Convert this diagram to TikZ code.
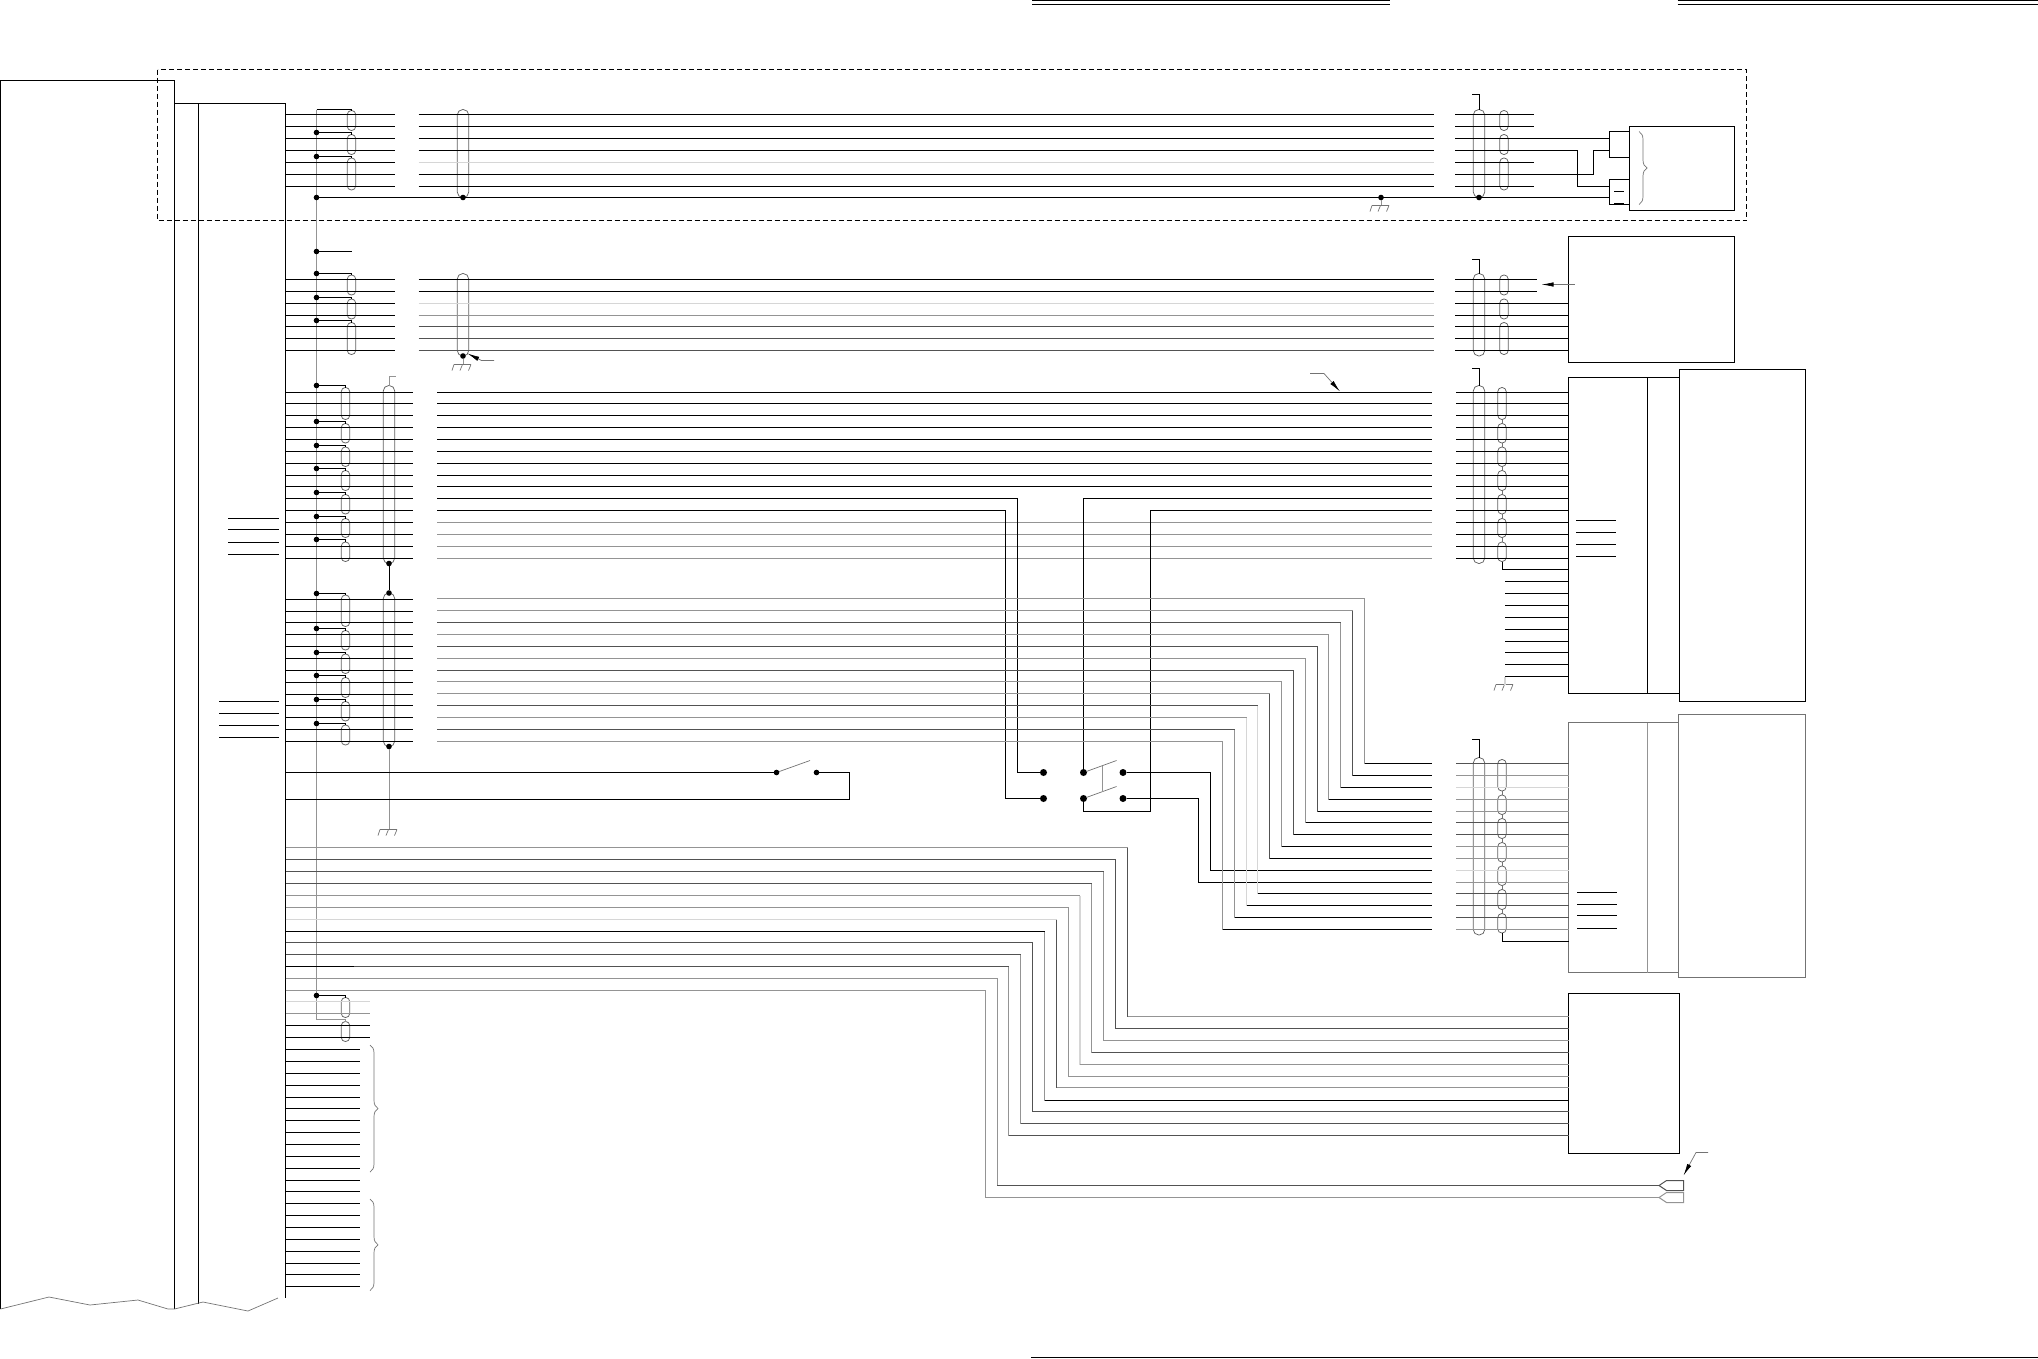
\documentclass[tikz,border=0pt]{standalone}
\usepackage{xcolor}
\usetikzlibrary{calc,arrows.meta,decorations.pathreplacing}
\tikzset{
  wirek/.style={draw=black,line width=1pt},
  wired/.style={draw=black!68,line width=1pt},
  wireg/.style={draw=black!42,line width=1pt},
  wirel/.style={draw=black!16,line width=1.4pt},
  wireoff/.style={draw=none},
  thinline/.style={draw=black!55,line width=.7pt},
  unit/.style={rectangle,draw=black,line width=1pt,anchor=north west,inner sep=0pt,outer sep=0pt},
  ghostunit/.style={unit,draw=black!55},
  sleeve/.style={rectangle,draw=black!62,line width=.75pt,minimum width=8.4pt,rounded corners=4pt,inner sep=0pt,outer sep=0pt},
  bigsleeve/.style={rectangle,draw=black!62,line width=.75pt,minimum width=11.5pt,rounded corners=5.5pt,inner sep=0pt,outer sep=0pt},
  dot/.style={circle,fill=black,inner sep=0pt,outer sep=0pt,minimum size=5.6pt},
  swdot/.style={circle,fill=black,inner sep=0pt,outer sep=0pt,minimum size=7pt},
  leader/.style={thinline,-{Latex[length=12pt,width=4.5pt,black]}},
  curly/.style={thinline,decorate,decoration={brace,amplitude=8pt}},
  gnd/.pic={
    \draw[thinline] (-9,0) -- (8,0);
    \draw[thinline] (-9,0) -- (-11,6);
    \draw[thinline] (-.5,0) -- (-3,6);
    \draw[thinline] (8,0) -- (5.5,6);
  }
}
\begin{document}
\begin{tikzpicture}[x=1pt,y=-1pt,line width=1pt]
\useasboundingbox (0,0) rectangle (2038,1358);

% page rules
\draw[line width=1.3pt] (1032,.7) -- (1390,.7);
\draw[line width=1.3pt] (1032,4.5) -- (1390,4.5);
\draw[line width=1.3pt] (1677.5,.7) -- (2038,.7);
\draw[line width=1.3pt] (1677.5,4.5) -- (2038,4.5);
\draw (1031,1357) -- (2038,1357);

% dashed frame
\draw[dashed,dash pattern=on 5pt off 3pt] (157.5,69.5) rectangle (1746.5,220.5);

% left cabinet, broken at the bottom
\draw (.5,1309) -- (.5,80.5) -- (174.5,80.5) -- (174.5,1309);
\draw (174.5,103.5) -- (285.5,103.5) -- (285.5,1297.5);
\draw (198.5,103.5) -- (198.5,1304);
\draw[thinline] (.5,1309) -- (49,1297) -- (90,1305) -- (138,1300) -- (168,1309) -- (174.5,1309) -- (203,1302) -- (248,1311) -- (278,1298);

% units
\node[unit,minimum width=105pt,minimum height=84pt] (unitA) at (1629.5,126.5) {};
\node[unit,minimum width=20pt,minimum height=26pt] (connAa) at (1609.5,131.5) {};
\node[unit,minimum width=20pt,minimum height=25pt] (connAb) at (1609.5,179.5) {};
\node[unit,minimum width=166pt,minimum height=126pt] (unitB) at (1568.5,236.5) {};
\node[unit,minimum width=111pt,minimum height=316pt] (unitC) at (1568.5,377.5) {};
\node[unit,minimum width=126pt,minimum height=332pt] (unitD) at (1679.5,369.5) {};
\node[ghostunit,minimum width=110pt,minimum height=250pt] (unitE) at (1568.5,722.5) {};
\node[ghostunit,minimum width=127pt,minimum height=263pt] (unitF) at (1678.5,714.5) {};
\node[unit,minimum width=111pt,minimum height=160pt] (unitG) at (1568.5,993.5) {};
\coordinate (divC) at (1647.5,377.5);
\coordinate (divE) at (1647.5,722.5);
\draw (divC) -- (divC |- unitC.south);
\draw[wireg] (divE) -- (divE |- unitE.south);
\draw (1614,191.5) -- (1624,191.5);
\draw[line width=1.4pt] (1614,203.5) -- (1624,203.5);
\draw[curly] (1639,131.5) -- (1639,204.5);
\draw[curly] (370,1045) -- (370,1172);
\draw[curly] (370,1199) -- (370,1290.5);

% columns
\coordinate (xa) at (285.5,0);
\coordinate (xb) at (395,0);
\coordinate (xc) at (418.5,0);
\coordinate (xd) at (1434,0);
\coordinate (xe) at (1455,0);
\coordinate (xf) at (413,0);
\coordinate (xg) at (437,0);
\coordinate (xh) at (1432,0);
\coordinate (xi) at (1456,0);

% common bus
\coordinate (busT) at (316.5,109.5);
\coordinate (busB) at (316.5,1019.5);
\coordinate (busE) at (345.5,1019.5);
\draw[wireg] (busT) -- (busB) -- (busE);

% sleeves
\foreach \i/\ya/\yb in {1/110.5/130.5,2/134.5/154.5,3/158/190}{
  \node[sleeve,minimum height={(\yb-\ya)*1pt}] (sa\i) at (351.5,{(\ya+\yb)/2}) {};
  \node[sleeve,minimum height={(\yb-\ya)*1pt}] (ra\i) at (1504,{(\ya+\yb)/2}) {};
}
\foreach \i/\ya/\yb in {1/275/295,2/299/319,3/322.5/354.5}{
  \node[sleeve,minimum height={(\yb-\ya)*1pt}] (sb\i) at (351.5,{(\ya+\yb)/2}) {};
  \node[sleeve,minimum height={(\yb-\ya)*1pt}] (rb\i) at (1504,{(\ya+\yb)/2}) {};
}
\foreach \i/\ya/\yb in {1/387.5/419.5,2/423.5/443,3/447/466.5,4/470.5/490.5,5/494.5/514,6/518.5/537.5,7/542/561.5}{
  \node[sleeve,minimum height={(\yb-\ya)*1pt}] (sc\i) at (345.5,{(\ya+\yb)/2}) {};
  \node[sleeve,minimum height={(\yb-\ya)*1pt}] (rc\i) at (1502,{(\ya+\yb)/2}) {};
}
\foreach \i/\ya/\yb in {1/595/626.5,2/630.5/650,3/654/673.5,4/677.5/697.5,5/701.5/721,6/725/745}{
  \node[sleeve,minimum height={(\yb-\ya)*1pt}] (sd\i) at (345.5,{(\ya+\yb)/2}) {};
}
\foreach \i/\ya/\yb in {1/759.5/791,2/795/814.5,3/818.5/838.5,4/842.5/862,5/866/885.5,6/889.5/909.5,7/913.5/933}{
  \node[sleeve,minimum height={(\yb-\ya)*1pt}] (rl\i) at (1502,{(\ya+\yb)/2}) {};
}
\foreach \i/\ya/\yb in {1/997.5/1017.5,2/1021.5/1041.5}{
  \node[sleeve,minimum height={(\yb-\ya)*1pt}] (se\i) at (345.5,{(\ya+\yb)/2}) {};
}
\foreach \i/\j in {1/2,2/3,3/4,4/5,5/6,6/7}{
  \draw[thinline] (rc\i.south) -- (rc\j.north);
  \draw[thinline] (rl\i.south) -- (rl\j.north);
}
\foreach \n/\xs/\ya/\yb in {bla/463/109.5/197.5,blb/463/273.5/356,blc/389/385.5/563.5,bld/389/593/746.5,
    bra/1479/109.5/197.5,brb/1479/273.5/356,brc/1479/385.5/563.5,brl/1479/757.5/935}{
  \node[bigsleeve,minimum height={(\yb-\ya)*1pt}] (\n) at (\xs,{(\ya+\yb)/2}) {};
}

% dots on the bus and their stubs
\draw (busT) -| (sa1.north);
\foreach \n/\y/\s in {da2/132.5/sa2,da3/156.5/sa3,
    db1/273.5/sb1,db2/297.5/sb2,db3/320.5/sb3,
    dc1/385.5/sc1,dc2/421.5/sc2,dc3/445.5/sc3,dc4/468.5/sc4,dc5/492.5/sc5,dc6/516.5/sc6,dc7/539.5/sc7,
    dd1/593.5/sd1,dd2/628.5/sd2,dd3/652.5/sd3,dd4/675.5/sd4,dd5/699.5/sd5,dd6/723.5/sd6,
    de1/995.5/se1}{
  \node[dot] (\n) at (316.5,\y) {};
  \draw (\n) -| (\s.north);
}
\draw[wireg] (busE) -- (se2.north);
\node[dot] (dsh) at (316.5,197.5) {};
\node[dot] (dsp) at (316.5,251.5) {};
\coordinate (spare) at (351.5,251.5);
\draw (dsp) -- (spare);
\draw (dsh) -- (dsh -| connAb.west);
\node[dot] (dba) at (bla.south) {};
\node[dot] (dra) at (bra.south) {};
\node[dot] (dgn) at (1381,197.5) {};
\node[dot] (dbb) at (blb.south) {};
\node[dot] (dbc) at (blc.south) {};
\node[dot] (dbd) at (bld.north) {};
\node[dot] (dbe) at (bld.south) {};
\draw (dbc) -- (dbd);

% grounds
\coordinate (gnA) at (1381,205.5);
\coordinate (gnB) at (463,364.5);
\coordinate (gnC) at (389,829.5);
\coordinate (gnD) at (1505,684.5);
\draw[wireg] (dgn) -- (gnA);
\draw[wireg] (dbb) -- (gnB);
\draw[wireg] (dbe) -- (gnC);
\pic at (gnA) {gnd};
\pic at (gnB) {gnd};
\pic at (gnC) {gnd};
\pic at (gnD) {gnd};

% shield flags
\coordinate (flA) at (1472,94.5);
\coordinate (flB) at (1472,259.5);
\coordinate (flC) at (1472,368.5);
\coordinate (flD) at (1472,739.5);
\coordinate (flE) at (395.5,376.5);
\draw (flA) -| (bra.north);
\draw (flB) -| (brb.north);
\draw (flC) -| (brc.north);
\draw (flD) -| (brl.north);
\draw[wireg] (flE) -| (blc.north);

% first bundle
\foreach \i/\y/\c in {1/114.5/wirek,2/126.5/wirek,3/138.5/wirek,4/150.5/wirek,5/162.5/wirel,6/174.5/wirek,7/186.5/wirek}{
  \coordinate (ga\i) at (xa |- 0,\y);
  \draw (ga\i) -- (ga\i -| xb);
  \draw[\c] (ga\i -| xc) -- (ga\i -| xd);
}
\coordinate (endA) at (1534,0);
\foreach \i in {1,2,5,7}{
  \draw (ga\i -| xe) -- (ga\i -| endA);
}
\coordinate (jogA) at (1577.5,186.5);
\coordinate (jogB) at (1593.5,150.5);
\draw (ga3 -| xe) -- (ga3 -| connAa.west);
\draw (ga4 -| xe) -| (jogA) -- (jogA -| connAb.west);
\draw (ga6 -| xe) -| (jogB) -- (jogB -| connAa.west);

% second bundle
\foreach \i/\y/\c in {1/279.5/wirek,2/291.5/wirek,3/303.5/wirel,4/315.5/wireg,5/326.5/wired,6/338.5/wired,7/350.5/wired}{
  \coordinate (gb\i) at (xa |- 0,\y);
  \draw (gb\i) -- (gb\i -| xb);
  \draw[\c] (gb\i -| xc) -- (gb\i -| xd);
}
\coordinate (endB) at (1537,0);
\foreach \i in {1,2}{
  \draw (gb\i -| xe) -- (gb\i -| endB);
}
\foreach \i in {3,...,7}{
  \draw (gb\i -| xe) -- (gb\i -| unitB.west);
}
\coordinate (ptB) at (1574.5,284.5);
\coordinate (tipB) at (1541.5,284.5);
\draw[leader] (ptB) -- (tipB);
\coordinate (ptC) at (1310,373.5);
\coordinate (ptD) at (1324,373.5);
\coordinate (tipC) at (1340,391.5);
\draw[leader] (ptC) -- (ptD) -- (tipC);
\coordinate (ptE) at (494,360.5);
\coordinate (ptF) at (481.5,360.5);
\coordinate (tipE) at (467.5,353.5);
\draw[leader] (ptE) -- (ptF) -- (tipE);

% third bundle
\foreach \i/\y/\c in {1/392.5/wirek,2/403.5/wirek,3/415.5/wirek,4/427.5/wirek,5/439.5/wirek,6/451.5/wirek,7/463.5/wirek,8/475.5/wirek,
    9/486.5/wirek,10/498.5/wireoff,11/510.5/wireoff,12/522.5/wireg,13/534.5/wireg,14/546.5/wireg,15/558.5/wireg}{
  \coordinate (gc\i) at (xa |- 0,\y);
  \draw (gc\i) -- (gc\i -| xf);
  \draw[\c] (gc\i -| xg) -- (gc\i -| xh);
  \draw (gc\i -| xi) -- (gc\i -| unitC.west);
}
\coordinate (stemC) at (1502.5,569.5);
\draw (rc7.south) -- (rc7.south |- stemC) -- (stemC -| unitC.west);
\foreach \y in {581.5,593.5,605.5,617.5,629.5,641.5,652.5,664.5,676.5}{
  \coordinate (gp) at (1505,\y);
  \draw (gp) -- (gp -| unitC.west);
}
\draw[wirel] (1505,676.5) -- (gnD);

% switches
\node[dot] (swl) at (776.5,772.5) {};
\node[dot] (swr) at (816.5,772.5) {};
\coordinate (armL) at (810,760.5);
\coordinate (backL) at (849.5,799.5);
\coordinate (rowL) at (285.5,772.5);
\coordinate (rowM) at (285.5,799.5);
\draw[thinline] (swl) -- (armL);
\draw (rowL) -- (swl);
\draw (swr) -| (backL) -- (rowM);

\node[swdot] (swa) at (1043.5,772.5) {};
\node[swdot] (swb) at (1083.5,772.5) {};
\node[swdot] (swc) at (1123,772.5) {};
\node[swdot] (swd) at (1043.5,798.5) {};
\node[swdot] (swe) at (1083.5,798.5) {};
\node[swdot] (swf) at (1123,798.5) {};
\coordinate (armA) at (1116.5,760.5);
\coordinate (armB) at (1116.5,786.5);
\coordinate (linkA) at (1102.5,765.5);
\coordinate (linkB) at (1102.5,791.5);
\draw[thinline] (swb) -- (armA);
\draw[thinline] (swe) -- (armB);
\draw[wireg] (linkA) -- (linkB);
\coordinate (tnA) at (1017.5,772.5);
\coordinate (tnB) at (1005.5,798.5);
\coordinate (tnC) at (1150.5,811.5);
\draw (gc10 -| xg) -| (tnA) -- (swa);
\draw (gc11 -| xg) -| (tnB) -- (swd);
\draw (gc10 -| xh) -| (swb);
\draw (gc11 -| xh) -| (tnC) -| (swe);

% rows on the left of the lower sleeves
\foreach \i/\y/\c in {1/763.5/wired,2/775.5/wireg,3/787.5/wirel,4/799.5/wireg,5/811.5/wireg,6/822.5/wired,7/834.5/wired,8/846.5/wireg,
    9/858.5/wireg,10/870.5/wirel,11/882.5/wireg,12/893.5/wired,13/905.5/wired,14/917.5/wired,15/929.5/wireg}{
  \coordinate (gl\i) at (xh |- 0,\y);
  \draw[\c] (gl\i -| xi) -- (gl\i -| unitE.west);
}
\coordinate (stemL) at (1502.5,941.5);
\draw (rl7.south) -- (rl7.south |- stemL) -- (stemL -| unitE.west);
\coordinate (tnD) at (1210.5,0);
\coordinate (tnE) at (1198.5,0);
\draw (swc) -| (gl10 -| tnD) -- (gl10);
\draw (swf) -| (gl11 -| tnE) -- (gl11);

% fourth bundle
\foreach \y in {599.5,611.5,622.5,634.5,646.5,658.5,670.5,682.5,694.5,705.5,717.5,729.5,741.5}{
  \coordinate (gq) at (xa |- 0,\y);
  \draw (gq) -- (gq -| xf);
}
\foreach \i/\y/\r/\x/\ch/\cv in {1/598.5/1/1364.5/wireg/wireg,2/610.5/2/1352.5/wireg/wired,3/622.5/3/1340.5/wired/wireg,4/634.5/4/1328.5/wireg/wireg,
    5/646.5/5/1317.5/wired/wired,6/658.5/6/1305.5/wireg/wireg,7/670.5/7/1293.5/wired/wired,8/681.5/8/1281.5/wireg/wireg,
    9/693.5/9/1269.5/wireg/wired,10/705.5/12/1257.5/wired/wirel,11/717.5/13/1246.5/wireg/wirel,12/729.5/14/1234.5/wired/wireg,13/741.5/15/1222.5/wireg/wireg}{
  \coordinate (gd\i) at (xg |- 0,\y);
  \coordinate (gt\i) at (\x,\y);
  \draw[\ch] (gd\i) -- (gt\i);
  \draw[\cv] (gt\i) -- (gt\i |- gl\r);
  \draw (gt\i |- gl\r) -- (gl\r);
}

% long run to the lower unit
\foreach \i/\y/\yt/\x/\ch/\cv/\cf in {1/847.5/1016.5/1127.5/wireg/wired/wireg,2/859.5/1028.5/1115.5/wired/wired/wired,3/871.5/1040.5/1103.5/wired/wireg/wireg,
    4/883.5/1052.5/1091.5/wired/wireg/wired,5/895.5/1064.5/1080/wireg/wirel/wireg,6/907.5/1076.5/1068.5/wireg/wireg/wireg,7/919.5/1087.5/1056.5/wirel/wired/wireg,
    8/931.5/1100.5/1044.5/wirek/wireg/wirek,9/942.5/1111.5/1032.5/wired/wired/wired,10/954.5/1123.5/1020.5/wired/wireg/wired,11/966.5/1135.5/1008.5/wired/wireg/wired}{
  \coordinate (ge\i) at (xa |- 0,\y);
  \coordinate (et\i) at (\x,\y);
  \draw[\ch] (ge\i) -- (et\i);
  \draw[\cv] (et\i) -- (et\i |- 0,\yt);
  \draw[\cf] (et\i |- 0,\yt) -- (unitG.west |- 0,\yt);
}
\coordinate (blackEnd) at (354,966.5);
\draw (ge11) -- (blackEnd);

% the two plugs
\draw[wired] (1659,1185.5) -- (1666.5,1180.5) -- (1683.5,1180.5) -- (1683.5,1190.5) -- (1666.5,1190.5) -- cycle;
\draw[wireg] (1659,1197.5) -- (1666.5,1192.5) -- (1683.5,1192.5) -- (1683.5,1202.5) -- (1666.5,1202.5) -- cycle;
\coordinate (tipP) at (1659,1185.5);
\coordinate (tipQ) at (1659,1197.5);
\coordinate (epA) at (285.5,978.5);
\coordinate (epB) at (285.5,990.5);
\coordinate (etA) at (997,978.5);
\coordinate (etB) at (985.5,990.5);
\draw[wireg] (epA) -- (etA) -- (etA |- tipP);
\draw[wired] (etA |- tipP) -- (tipP);
\draw[wireg] (epB) -- (etB) -- (etB |- tipQ) -- (tipQ);
\coordinate (ptP) at (1708,1152.5);
\coordinate (ptQ) at (1696,1152.5);
\coordinate (tipR) at (1683.5,1175.5);
\draw[leader] (ptP) -- (ptQ) -- (tipR);

% tail of the cabinet
\coordinate (endE) at (370,0);
\coordinate (endF) at (360,0);
\foreach \y/\c in {1001.5/wirel,1013.5/wireg,1025.5/wirek,1037.5/wirek}{
  \coordinate (gr) at (xa |- 0,\y);
  \draw[\c] (gr) -- (gr -| endE);
}
\foreach \y in {1049.5,1061.5,1073.5,1085.5,1097.5,1108.5,1120.5,1132.5,1144.5,1156.5,1168.5,1180.5,1191.5,1203.5,1215.5,1227.5,1239.5,1251.5,1263.5,1274.5,1286.5}{
  \coordinate (gr) at (xa |- 0,\y);
  \draw (gr) -- (gr -| endF);
}

% short bars
\foreach \y in {518.5,529.5,542.5,554.5}{
  \draw (228,\y) -- (279,\y);
}
\foreach \y in {701.5,713.5,725.5,737.5}{
  \draw (219,\y) -- (279,\y);
}
\foreach \y in {520.5,532.5,544.5,556.5}{
  \draw (1576,\y) -- (1616,\y);
}
\foreach \y in {892.5,904.5,915.5,928.5}{
  \draw (1577,\y) -- (1617,\y);
}
\end{tikzpicture}
\end{document}
